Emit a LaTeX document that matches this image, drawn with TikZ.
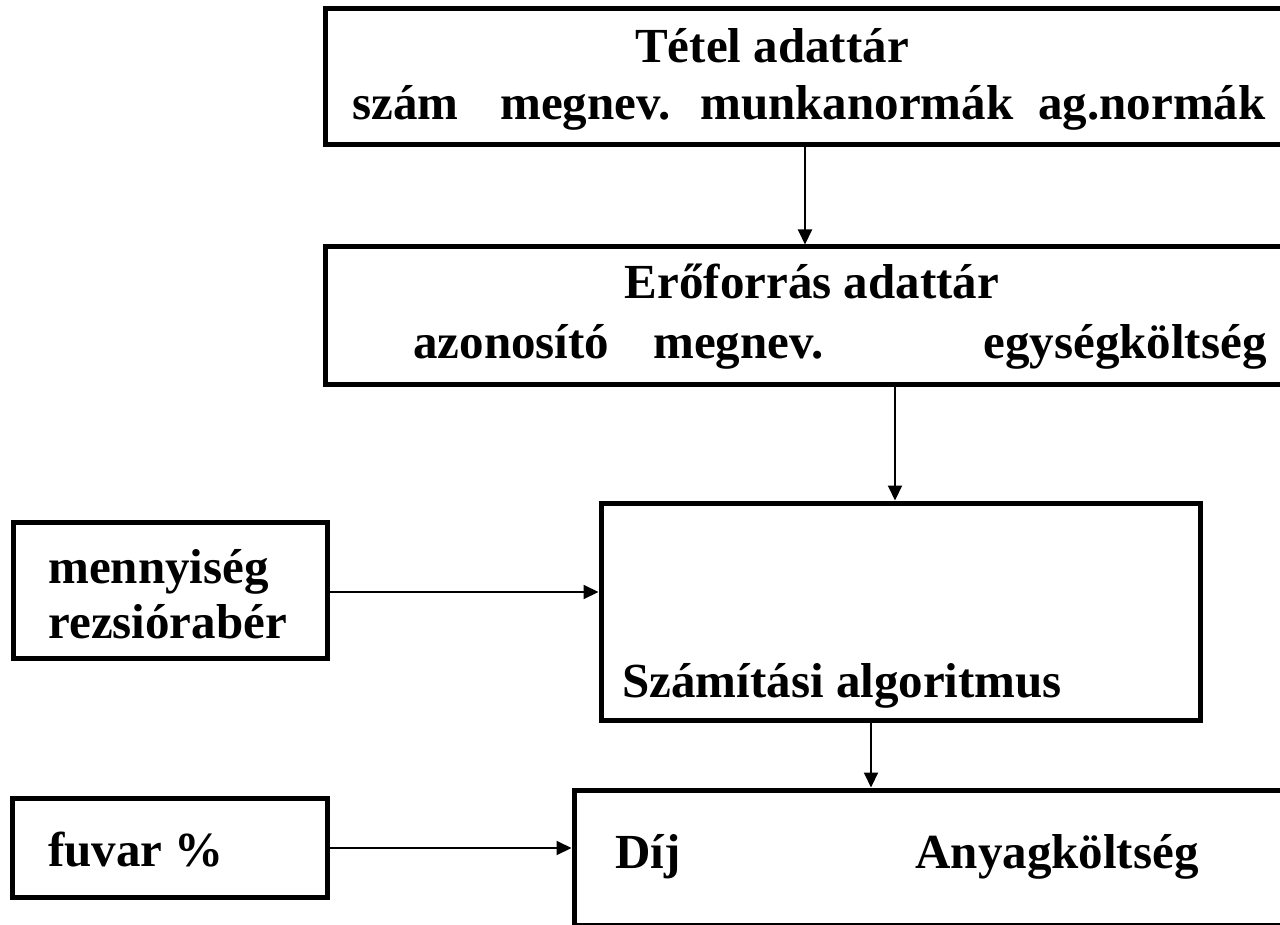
\documentclass[tikz,border=0pt]{standalone}
\usepackage{fontspec}
\setmainfont{Liberation Serif}[BoldFont={Liberation Serif Bold}]
\usetikzlibrary{arrows.meta,fit}
\tikzset{
  box/.style={draw=black, line width=2.5pt, inner sep=0pt, rectangle},
  txt/.style={inner sep=0pt, font=\fontsize{24.5pt}{29pt}\selectfont\bfseries},
  arr/.style={-{Triangle[length=7.5pt,width=7pt]}, line width=1pt}
}
\begin{document}
\begin{tikzpicture}[x=0.5pt,y=-0.5pt]
\useasboundingbox (0,0) rectangle (1280,925);
\clip (0,0) rectangle (1280,925);
\fill[white] (0,0) rectangle (1280,925);
% corner coordinates
\coordinate (a1) at (325,9);   \coordinate (a2) at (1310,145);
\coordinate (b1) at (325,247); \coordinate (b2) at (1310,384);
\coordinate (c1) at (601,503); \coordinate (c2) at (1200,720);
\coordinate (d1) at (13,522);  \coordinate (d2) at (327,658);
\coordinate (e1) at (12,798);  \coordinate (e2) at (327,897);
\coordinate (f1) at (574,790); \coordinate (f2) at (1310,925);
% boxes
\node[box, fit=(a1)(a2)] (tetel) {};
\node[box, fit=(b1)(b2)] (eroforras) {};
\node[box, fit=(c1)(c2)] (szamitas) {};
\node[box, fit=(d1)(d2)] (menny) {};
\node[box, fit=(e1)(e2)] (fuvar) {};
\node[box, fit=(f1)(f2)] (dij) {};
% texts
\node[txt, anchor=base] (t0) at (772,63) {Tétel adattár};
\node[txt, anchor=base west] (t1) at (352,120) {szám};
\node[txt, anchor=base west] (t2) at (500,120) {megnev.};
\node[txt, anchor=base west] (t3) at (700,120) {munkanormák};
\node[txt, anchor=base east] (t4) at (1266,120) {ag.normák};
\node[txt, anchor=base] (r0) at (812,299) {Erőforrás adattár};
\node[txt, anchor=base west] (r1) at (413,358) {azonosító};
\node[txt, anchor=base west] (r2) at (653,358) {megnev.};
\node[txt, anchor=base east] (r3) at (1267,358) {egységköltség};
\node[txt, anchor=base west] (s0) at (622,697) {Számítási algoritmus};
\node[txt, anchor=base west] (m1) at (48,583) {mennyiség};
\node[txt, anchor=base west] (m2) at (48,638) {rezsiórabér};
\node[txt, anchor=base west] (fv) at (48,866) {fuvar \%};
\node[txt, anchor=base west] (d0) at (615,868) {Díj};
\node[txt, anchor=base west] (d1t) at (915,868) {Anyagköltség};
% connectors
\coordinate (x1) at (805,0);
\coordinate (x2) at (895,0);
\coordinate (x3) at (871,0);
\coordinate (y1) at (0,592);
\coordinate (y2) at (0,848);
\draw[arr] (tetel.south -| x1) -- (eroforras.north -| x1);
\draw[arr] (eroforras.south -| x2) -- (szamitas.north -| x2);
\draw[arr] (szamitas.south -| x3) -- (dij.north -| x3);
\draw[arr] (menny.east |- y1) -- (szamitas.west |- y1);
\draw[arr] (fuvar.east |- y2) -- (dij.west |- y2);
\end{tikzpicture}
\end{document}
